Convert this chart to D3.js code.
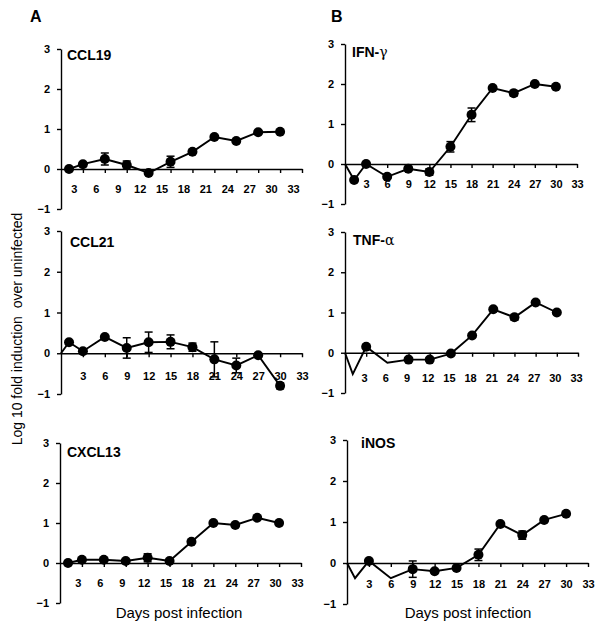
<!DOCTYPE html>
<html lang="en">
<head>
  <meta charset="utf-8">
  <title>Cytokine induction time course</title>
  <script src="https://cdn.jsdelivr.net/npm/d3@7"></script>
  <style>
    body { margin: 0; background: #fff; }
    text { font-family: Arial, "Liberation Sans", sans-serif; }
  </style>
</head>
<body>
  <svg class="chart" width="601" height="629"></svg>
  <script>
    // x tick labels (days) and y ticks
    var dayTicks = [3, 6, 9, 12, 15, 18, 21, 24, 27, 30, 33];
    var logTicks = [-1, 0, 1, 2, 3];

    // column A
    var ccl19Days = [1.1, 3, 6, 9, 12, 15, 18, 21, 24, 27, 30];
    var ccl19Vals = [0, 0.12, 0.25, 0.1, -0.1, 0.18, 0.43, 0.8, 0.7, 0.92, 0.93];
    var ccl19Err  = [0, 0, 0.15, 0.1, 0, 0.14, 0, 0, 0, 0, 0];
    var ccl19Bare = [];

    var ccl21Days = [0, 1.1, 3, 6, 9, 12, 15, 18, 21, 24, 27, 30];
    var ccl21Vals = [0, 0.27, 0.05, 0.4, 0.13, 0.27, 0.28, 0.15, -0.15, -0.3, -0.05, -0.8];
    var ccl21Err  = [0, 0, 0, 0, 0.25, 0.25, 0.17, 0.1, 0.43, 0.18, 0, 0.07];
    var ccl21Bare = [0];

    var cxcl13Days = [1.1, 3, 6, 9, 12, 15, 18, 21, 24, 27, 30];
    var cxcl13Vals = [0, 0.08, 0.08, 0.05, 0.13, 0.05, 0.53, 1.0, 0.95, 1.13, 1.0];
    var cxcl13Err  = [0, 0, 0, 0, 0.1, 0, 0, 0, 0, 0, 0];
    var cxcl13Bare = [];

    // column B
    var ifnDays = [0, 1.3, 3, 6, 9, 12, 15, 18, 21, 24, 27, 30];
    var ifnVals = [0, -0.4, 0, -0.32, -0.12, -0.2, 0.43, 1.23, 1.9, 1.77, 2.0, 1.93];
    var ifnErr  = [0, 0, 0, 0, 0.05, 0.08, 0.13, 0.17, 0, 0.07, 0, 0];
    var ifnBare = [0];

    var tnfDays = [0, 1.1, 3, 6, 9, 12, 15, 18, 21, 24, 27, 30];
    var tnfVals = [0, -0.53, 0.15, -0.25, -0.17, -0.17, -0.02, 0.43, 1.08, 0.88, 1.25, 1.0];
    var tnfErr  = [0, 0, 0, 0, 0, 0, 0, 0, 0, 0.07, 0, 0];
    var tnfBare = [0, 1, 3];

    var inosDays = [0, 1.1, 3, 6, 9, 12, 15, 18, 21, 24, 27, 30];
    var inosVals = [0, -0.37, 0.05, -0.37, -0.15, -0.2, -0.12, 0.2, 0.95, 0.68, 1.05, 1.2];
    var inosErr  = [0, 0, 0, 0, 0.2, 0, 0, 0.14, 0, 0.1, 0, 0];
    var inosBare = [0, 1, 3];

    // panel frames: y axis x, x axis end, y of 3 and of -1, label shifts
    var panels = [
      { name: "CCL19", greek: "", days: ccl19Days, vals: ccl19Vals, err: ccl19Err, bare: ccl19Bare,
        x0: 61, x1: 302, yTop: 49, yBot: 209, ldx: -9, lpad: 12, tx: 67, ty: 60 },
      { name: "CCL21", greek: "", days: ccl21Days, vals: ccl21Vals, err: ccl21Err, bare: ccl21Bare,
        x0: 61, x1: 302, yTop: 231, yBot: 394, ldx: 0, lpad: 15, tx: 70, ty: 247 },
      { name: "CXCL13", greek: "", days: cxcl13Days, vals: cxcl13Vals, err: cxcl13Err, bare: cxcl13Bare,
        x0: 60, x1: 301, yTop: 443, yBot: 603, ldx: -4, lpad: 12, tx: 67, ty: 457 },
      { name: "IFN-", greek: "\u03b3", days: ifnDays, vals: ifnVals, err: ifnErr, bare: ifnBare,
        x0: 345, x1: 577, yTop: 44, yBot: 204, ldx: 0, lpad: 12, tx: 352, ty: 57 },
      { name: "TNF-", greek: "\u03b1", days: tnfDays, vals: tnfVals, err: tnfErr, bare: tnfBare,
        x0: 345, x1: 578, yTop: 232, yBot: 393, ldx: -2, lpad: 17, tx: 353, ty: 245 },
      { name: "iNOS", greek: "", days: inosDays, vals: inosVals, err: inosErr, bare: inosBare,
        x0: 347, x1: 588, yTop: 440, yBot: 604, ldx: 0, lpad: 13, tx: 361, ty: 448 }
    ];

    var svg = d3.select("svg.chart");

    panels.forEach(function(p) {
      var x = d3.scaleLinear().domain([0, 33]).range([p.x0, p.x1]);
      var y = d3.scaleLinear().domain([-1, 3]).range([p.yBot, p.yTop]);
      var g = svg.append("g");

      var pts = p.days.map(function(d, i) {
        return { day: d, v: p.vals[i], e: p.err[i], bare: p.bare.indexOf(i) >= 0 };
      });

      // y axis
      var ya = g.append("g")
        .attr("transform", "translate(" + p.x0 + ",0)")
        .call(d3.axisLeft(y).tickValues(logTicks).tickSize(4).tickSizeOuter(0).tickPadding(7).tickFormat(d3.format("d")));

      // x axis through zero
      var xa = g.append("g")
        .attr("transform", "translate(0," + y(0) + ")")
        .call(d3.axisBottom(x).tickValues(dayTicks).tickSize(4).tickSizeOuter(0).tickPadding(p.lpad));
      xa.selectAll("text").attr("dx", p.ldx);

      [ya, xa].forEach(function(a) {
        a.selectAll("path, line").attr("stroke", "#000").attr("stroke-width", 1.4);
        a.selectAll("text").attr("font-size", 11).attr("font-weight", "bold").attr("fill", "#000")
          .style("font-family", "Arial, 'Liberation Sans', sans-serif");
      });

      // series line
      var line = d3.line()
        .x(function(d) { return x(d.day); })
        .y(function(d) { return y(d.v); });
      g.append("path")
        .datum(pts)
        .attr("d", line)
        .attr("fill", "none")
        .attr("stroke", "#000")
        .attr("stroke-width", 1.9);

      // error bars
      var eb = g.selectAll("g.err").data(pts.filter(function(d) { return d.e > 0; }))
        .enter().append("g").attr("class", "err");
      eb.append("line")
        .attr("x1", function(d) { return x(d.day); }).attr("x2", function(d) { return x(d.day); })
        .attr("y1", function(d) { return y(d.v - d.e); }).attr("y2", function(d) { return y(d.v + d.e); });
      eb.append("line")
        .attr("x1", function(d) { return x(d.day) - 4; }).attr("x2", function(d) { return x(d.day) + 4; })
        .attr("y1", function(d) { return y(d.v + d.e); }).attr("y2", function(d) { return y(d.v + d.e); });
      eb.append("line")
        .attr("x1", function(d) { return x(d.day) - 4; }).attr("x2", function(d) { return x(d.day) + 4; })
        .attr("y1", function(d) { return y(d.v - d.e); }).attr("y2", function(d) { return y(d.v - d.e); });
      eb.selectAll("line").attr("stroke", "#000").attr("stroke-width", 1.5);

      // markers
      g.selectAll("circle").data(pts.filter(function(d) { return !d.bare; }))
        .enter().append("circle")
        .attr("cx", function(d) { return x(d.day); })
        .attr("cy", function(d) { return y(d.v); })
        .attr("r", 5)
        .attr("fill", "#000");

      // panel title
      var t = g.append("text")
        .attr("x", p.tx).attr("y", p.ty)
        .attr("font-size", 14).attr("font-weight", "bold")
        .text(p.name);
      if (p.greek) {
        t.append("tspan").attr("font-weight", "normal").attr("font-family", "'DejaVu Serif', serif").text(p.greek);
      }
    });

    // column letters
    svg.append("text").attr("x", 30).attr("y", 22).attr("font-size", 16).attr("font-weight", "bold").text("A");
    svg.append("text").attr("x", 331).attr("y", 22).attr("font-size", 16).attr("font-weight", "bold").text("B");

    // axis titles
    svg.append("text")
      .attr("transform", "translate(22,329) rotate(-90)")
      .attr("text-anchor", "middle")
      .attr("font-size", 14)
      .attr("xml:space", "preserve")
      .text("Log 10 fold induction  over uninfected");

    svg.append("text").attr("x", 179).attr("y", 618).attr("text-anchor", "middle")
      .attr("font-size", 15).text("Days post infection");
    svg.append("text").attr("x", 468).attr("y", 618).attr("text-anchor", "middle")
      .attr("font-size", 15).text("Days post infection");
  </script>
</body>
</html>
